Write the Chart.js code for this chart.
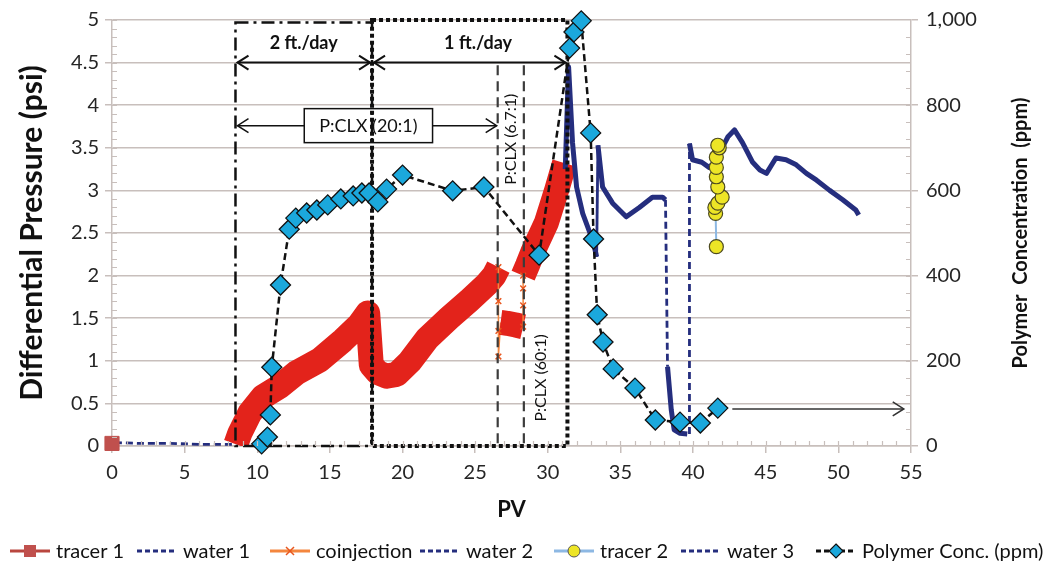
<!DOCTYPE html>
<html>
<head>
<meta charset="utf-8">
<script src="https://cdn.jsdelivr.net/npm/chart.js@4.4.0/dist/chart.umd.min.js"></script>
<style>
  html, body { margin: 0; padding: 0; background: #fff; }
</style>
</head>
<body>
<canvas id="chart" width="1049" height="570"></canvas>
<script>
// ---- data ----
const tracer1_pv  = [0];
const tracer1_psi = [0.03];

const water1_pv  = [0.2, 2.0, 4.0, 6.0, 8.5];
const water1_psi = [0.04, 0.03, 0.03, 0.02, 0.02];

// coinjection: dense red readings, traced along the middle of the band
const coinj_pv  = [8.53, 8.8, 9.5, 10.4, 11.55, 12.7, 14.3, 15.9, 17.0, 17.6, 17.85, 18.3, 18.9, 19.6, 20.5, 21.7, 23.2, 24.6, 25.8, 26.3, 26.6,
                   26.6, 26.6, 26.6, 26.75, 27.2, 27.8, 28.3, 28.3, 28.3, 28.3, 28.6, 28.95, 29.9, 30.6, 31.15];
const coinj_psi = [0.02, 0.15, 0.39, 0.58, 0.70, 0.86, 1.01, 1.24, 1.42, 1.56, 0.95, 0.86, 0.82, 0.84, 0.99, 1.26, 1.5, 1.71, 1.9, 2.0, 2.1,
                   1.7, 1.35, 1.05, 1.45, 1.44, 1.42, 1.4, 1.65, 1.85, 2.0, 2.12, 2.27, 2.62, 3.0, 3.32];

const water2_pv  = [31.2, 31.43, 31.7, 31.98, 32.4, 32.9, 33.2, 33.36, 33.45, 33.77, 34.46, 35.4, 36.3, 37.2, 37.9, 38.1, 38.24, 38.5, 38.7, 39.1, 39.6];
const water2_psi = [3.25, 4.45, 3.56, 3.04, 2.73, 2.5, 2.34, 2.22, 3.53, 3.04, 2.85, 2.69, 2.8, 2.92, 2.92, 2.89, 0.93, 0.42, 0.19, 0.15, 0.14];

const tracer2_pv  = [41.6, 41.55, 41.5, 41.7, 42.0, 41.7, 41.6, 41.6, 41.6, 41.8, 41.7];
const tracer2_psi = [2.34, 2.73, 2.8, 2.85, 2.92, 3.04, 3.16, 3.27, 3.39, 3.5, 3.53];

const water3_pv  = [39.75, 39.75, 39.96, 40.6, 41.1, 41.6, 42.0, 42.4, 42.85, 43.4, 44.1, 44.6, 45.05, 45.7, 46.4, 47.1, 47.8, 48.5, 49.4, 50.3, 51.2, 51.4];
const water3_psi = [0.14, 3.55, 3.36, 3.33, 3.27, 3.35, 3.5, 3.63, 3.71, 3.56, 3.33, 3.24, 3.2, 3.38, 3.36, 3.3, 3.2, 3.12, 3.0, 2.89, 2.77, 2.71];

const polymer_pv  = [10.3, 10.7, 10.9, 11.0, 11.6, 12.2, 12.65, 13.4, 14.1, 14.85, 15.75, 16.6, 17.2, 17.7, 18.3, 18.9, 20.0, 23.45, 25.6, 29.4,
                     31.5, 31.8, 32.3, 32.95, 33.15, 33.4, 33.8, 34.5, 36.0, 37.4, 39.1, 40.5, 41.7];
const polymer_ppm = [5, 21, 73, 185, 378, 509, 535, 547, 554, 566, 580, 587, 594, 594, 573, 603, 636, 599, 608, 448,
                     934, 972, 998, 735, 486, 308, 244, 181, 136, 61, 56, 54, 89];

const x_ticks = [0, 55, 5];      // min, max, step
const y_ticks = [0, 5, 0.5];
const y2_ticks = [0, 1000, 200];

// annotation values (PV / psi)
const rate_bounds = [8.5, 17.9, 31.35];
const rate_labels = ['2 ft./day', '1 ft./day'];
const clx_lines = [26.55, 28.35];
const clx_labels = ['P:CLX (20:1)', 'P:CLX (6.7:1)', 'P:CLX (60:1)'];

// ---- styling ----
const FONT = 'Lato, "DejaVu Sans", sans-serif';
const GRID = '#c8bfbc';
const TXT = '#262626';
const NAVY = '#252e7e';
const RED = '#e3231b';

const pts = (xs, ys) => xs.map((x, i) => ({ x: x, y: ys[i] }));

function hArrow(ctx, x0, x1, y, headStart, headEnd) {
  ctx.beginPath(); ctx.moveTo(x0, y); ctx.lineTo(x1, y); ctx.stroke();
  const head = (x, dir) => {
    ctx.beginPath();
    ctx.moveTo(x - dir * 11, y - 7); ctx.lineTo(x, y); ctx.lineTo(x - dir * 11, y + 7);
    ctx.stroke();
  };
  if (headStart) head(x0, x0 < x1 ? -1 : 1);
  if (headEnd) head(x1, x1 > x0 ? 1 : -1);
}

const annotations = {
  id: 'annotations',
  beforeDatasetDraw(chart, args) {
    if (args.index !== 6) return;
    const { ctx, scales: { x, y, y2 } } = chart;
    const X = v => x.getPixelForValue(v), Y = v => y.getPixelForValue(v);
    ctx.save();
    ctx.strokeStyle = '#111';
    ctx.fillStyle = '#111';

    // dash-dot box (2 ft/day) and dotted box (1 ft/day)
    ctx.lineWidth = 2.5; ctx.setLineDash([13, 5, 3, 5]);
    ctx.strokeRect(X(rate_bounds[0]), Y(4.97), X(rate_bounds[1]) - X(rate_bounds[0]), Y(0) - Y(4.97));
    ctx.lineWidth = 4; ctx.setLineDash([4, 3]);
    ctx.strokeRect(X(rate_bounds[1]), Y(5), X(rate_bounds[2]) - X(rate_bounds[1]), Y(0) - Y(5));

    // ratio change lines
    ctx.strokeStyle = '#3c3c3c'; ctx.lineWidth = 2.2; ctx.setLineDash([10, 6]);
    clx_lines.forEach(v => {
      ctx.beginPath(); ctx.moveTo(X(v), Y(4.47)); ctx.lineTo(X(v), Y(0)); ctx.stroke();
    });

    ctx.setLineDash([]);
    ctx.strokeStyle = '#111';
    ctx.lineWidth = 2;
    hArrow(ctx, X(rate_bounds[0]) + 2, X(rate_bounds[1]) - 2, Y(4.5), true, true);
    hArrow(ctx, X(rate_bounds[1]) + 2, X(rate_bounds[2]) - 2, Y(4.5), true, true);

    ctx.textAlign = 'center'; ctx.textBaseline = 'middle';
    ctx.font = 'bold 18px ' + FONT;
    ctx.fillText(rate_labels[0], X(13.2), Y(4.73));
    ctx.fillText(rate_labels[1], X(25.2), Y(4.73));

    // P:CLX (20:1) box with arrows
    ctx.font = '18px ' + FONT;
    const cx = X(17.65), cy = Y(3.76);
    const w = ctx.measureText(clx_labels[0]).width + 30, h = 34;
    ctx.lineWidth = 1.5;
    ctx.strokeRect(cx - w / 2, cy - h / 2, w, h);
    ctx.fillText(clx_labels[0], cx, cy + 1);
    hArrow(ctx, cx - w / 2, X(rate_bounds[0]) + 2, cy, false, true);
    hArrow(ctx, cx + w / 2, X(clx_lines[0]) - 1, cy, false, true);

    // rotated ratio labels
    ctx.font = '16px ' + FONT;
    [[clx_labels[1], 27.45, 3.6], [clx_labels[2], 29.5, 0.8]].forEach(([t, px, py]) => {
      ctx.save();
      ctx.translate(X(px), Y(py));
      ctx.rotate(-Math.PI / 2);
      ctx.fillText(t, 0, 0);
      ctx.restore();
    });

    // arrow continuing the polymer data
    ctx.strokeStyle = '#333'; ctx.lineWidth = 1.6;
    hArrow(ctx, X(42.7), X(54.5), y2.getPixelForValue(87), false, true);
    ctx.restore();
  }
};

const legendItems = [
  { text: 'tracer 1', at: 10, line: '#b9463f', dash: [], marker: 'square' },
  { text: 'water 1', at: 137, line: NAVY, dash: [5, 3] },
  { text: 'coinjection', at: 270, line: '#f4863e', dash: [], marker: 'cross' },
  { text: 'water 2', at: 420, line: NAVY, dash: [5, 3] },
  { text: 'tracer 2', at: 554, line: '#8db8e3', dash: [], marker: 'circle' },
  { text: 'water 3', at: 681, line: NAVY, dash: [5, 3] },
  { text: 'Polymer Conc. (ppm)', at: 816, line: '#111', dash: [5, 3], marker: 'diamond' }
];

const extras = {
  id: 'extras',
  afterDraw(chart) {
    const { ctx, chartArea: a, scales: { x, y, y2 } } = chart;
    ctx.save();
    // minor ticks
    ctx.strokeStyle = GRID; ctx.lineWidth = 1.2;
    ctx.beginPath();
    for (let v = 0.1; v < 5; v += 0.1) {
      const py = Math.round(y.getPixelForValue(v)) + 0.5;
      ctx.moveTo(a.left, py); ctx.lineTo(a.left + 5, py);
    }
    for (let v = 40; v < 1000; v += 40) {
      const py = Math.round(y2.getPixelForValue(v)) + 0.5;
      ctx.moveTo(a.right, py); ctx.lineTo(a.right - 5, py);
    }
    for (let v = 1; v < 55; v += 1) {
      const px = Math.round(x.getPixelForValue(v)) + 0.5;
      ctx.moveTo(px, a.bottom); ctx.lineTo(px, a.bottom - 5);
    }
    ctx.stroke();

    // right axis title (reads bottom to top)
    ctx.fillStyle = '#111';
    ctx.font = 'bold 20px ' + FONT;
    ctx.textAlign = 'center'; ctx.textBaseline = 'middle';
    ctx.save();
    ctx.translate(1021, (a.top + a.bottom) / 2);
    ctx.rotate(-Math.PI / 2);
    ctx.fillText('Polymer  Concentration  (ppm)', 0, 0);
    ctx.restore();

    // legend
    const ly = 551;
    ctx.font = '20px ' + FONT;
    ctx.textAlign = 'left';
    legendItems.forEach(it => {
      ctx.strokeStyle = it.line; ctx.lineWidth = 3; ctx.setLineDash(it.dash);
      ctx.beginPath(); ctx.moveTo(it.at, ly); ctx.lineTo(it.at + 40, ly); ctx.stroke();
      ctx.setLineDash([]);
      const mx = it.at + 20;
      if (it.marker === 'square') {
        ctx.fillStyle = '#c0504d'; ctx.fillRect(mx - 6, ly - 6, 12, 12);
      } else if (it.marker === 'cross') {
        ctx.strokeStyle = '#e8561e'; ctx.lineWidth = 1.5;
        ctx.beginPath();
        ctx.moveTo(mx - 4, ly - 4); ctx.lineTo(mx + 4, ly + 4);
        ctx.moveTo(mx + 4, ly - 4); ctx.lineTo(mx - 4, ly + 4);
        ctx.stroke();
      } else if (it.marker === 'circle') {
        ctx.fillStyle = '#ede526'; ctx.strokeStyle = '#555'; ctx.lineWidth = 1;
        ctx.beginPath(); ctx.arc(mx, ly, 6, 0, Math.PI * 2); ctx.fill(); ctx.stroke();
      } else if (it.marker === 'diamond') {
        ctx.fillStyle = '#1ba8dc'; ctx.strokeStyle = '#111'; ctx.lineWidth = 1.2;
        ctx.beginPath();
        ctx.moveTo(mx, ly - 7); ctx.lineTo(mx + 7, ly); ctx.lineTo(mx, ly + 7); ctx.lineTo(mx - 7, ly);
        ctx.closePath(); ctx.fill(); ctx.stroke();
      }
      ctx.fillStyle = '#111';
      ctx.fillText(it.text, it.at + 46, ly + 1);
    });
    ctx.restore();
  }
};

const dx = c => Math.abs(c.p1.x - c.p0.x);
const dy = c => Math.abs(c.p1.y - c.p0.y);
const navySegment = {
  borderDash: c => (dx(c) < 3 && dy(c) > 130) ? [7, 4] : undefined,
  borderWidth: c => (dx(c) < 3 && dy(c) > 60) ? 2.8 : 5
};

const tickFont = { family: FONT, size: 20 };
const titleFont = { family: FONT, size: 22, weight: 'bold' };

new Chart(document.getElementById('chart'), {
  type: 'line',
  data: {
    datasets: [
      {
        label: 'tracer 1', data: pts(tracer1_pv, tracer1_psi), yAxisID: 'y', order: 2,
        borderColor: '#b9463f', showLine: false,
        pointStyle: 'rect', pointRadius: 10, pointBackgroundColor: '#c0504d', pointBorderColor: '#c0504d', clip: false
      },
      {
        label: 'water 1', data: pts(water1_pv, water1_psi), yAxisID: 'y', order: 5,
        borderColor: NAVY, borderWidth: 2.8, borderDash: [7, 4], pointRadius: 0
      },
      {
        label: 'coinjection', data: pts(coinj_pv, coinj_psi), yAxisID: 'y', order: 6,
        borderColor: RED, borderWidth: 25, borderJoinStyle: 'round', clip: 0,
        segment: {
          borderWidth: c => dx(c) < 3 ? 1.5 : 25,
          borderColor: c => dx(c) < 3 ? '#f4863e' : RED
        },
        pointStyle: 'crossRot', pointBorderColor: '#e8561e', pointBorderWidth: 1.5,
        pointRadius: c => {
          const d = c.dataset.data, i = c.dataIndex;
          const same = (d[i - 1] && d[i - 1].x === d[i].x) || (d[i + 1] && d[i + 1].x === d[i].x);
          return same ? 4 : 0;
        }
      },
      {
        label: 'water 2', data: pts(water2_pv, water2_psi), yAxisID: 'y', order: 4,
        borderColor: NAVY, borderWidth: 5, borderJoinStyle: 'round', pointRadius: 0, segment: navySegment
      },
      {
        label: 'tracer 2', data: pts(tracer2_pv, tracer2_psi), yAxisID: 'y', order: 1,
        borderColor: '#8db8e3', borderWidth: 2,
        pointStyle: 'circle', pointRadius: 7, pointBackgroundColor: '#ede526', pointBorderColor: '#4d4a20', pointBorderWidth: 1.2
      },
      {
        label: 'water 3', data: pts(water3_pv, water3_psi), yAxisID: 'y', order: 3,
        borderColor: NAVY, borderWidth: 5, borderJoinStyle: 'round', pointRadius: 0, segment: navySegment
      },
      {
        label: 'Polymer Conc. (ppm)', data: pts(polymer_pv, polymer_ppm), yAxisID: 'y2', order: 0,
        borderColor: '#111', borderWidth: 2.5, borderDash: [7, 4], clip: false,
        pointStyle: 'rectRot', pointRadius: 10, pointBackgroundColor: '#1ba8dc', pointBorderColor: '#111', pointBorderWidth: 1.3
      }
    ]
  },
  options: {
    responsive: false,
    animation: false,
    layout: { padding: { top: 20, bottom: 44, left: 0, right: 0 } },
    plugins: { legend: { display: false }, tooltip: { enabled: false } },
    scales: {
      x: {
        type: 'linear', min: x_ticks[0], max: x_ticks[1],
        ticks: { stepSize: x_ticks[2], color: TXT, font: tickFont, padding: 8, maxRotation: 0 },
        grid: { drawOnChartArea: false, color: GRID, lineWidth: 1.5, tickLength: 7 },
        border: { color: GRID, width: 1.5 },
        title: { display: true, text: 'PV', color: '#111', font: titleFont, padding: { top: 0, bottom: 3 } },
        afterFit: s => { s.height = 80; }
      },
      y: {
        position: 'left', min: y_ticks[0], max: y_ticks[1],
        ticks: { stepSize: y_ticks[2], color: TXT, font: tickFont, padding: 6, callback: v => String(+v.toFixed(1)) },
        grid: { color: GRID, lineWidth: 1.5, tickLength: 7 },
        border: { color: GRID, width: 1.5 },
        title: { display: true, text: 'Differential Pressure (psi)', color: '#111', font: { family: FONT, size: 30, weight: 'bold' }, padding: { top: 14 } },
        afterFit: s => { s.width = 112; }
      },
      y2: {
        position: 'right', min: y2_ticks[0], max: y2_ticks[1],
        ticks: { stepSize: y2_ticks[2], color: TXT, font: tickFont, padding: 8 },
        grid: { drawOnChartArea: false, color: GRID, lineWidth: 1.5, tickLength: 7 },
        border: { color: GRID, width: 1.5 },
        afterFit: s => { s.width = 138; }
      }
    }
  },
  plugins: [annotations, extras]
});
</script>
</body>
</html>
